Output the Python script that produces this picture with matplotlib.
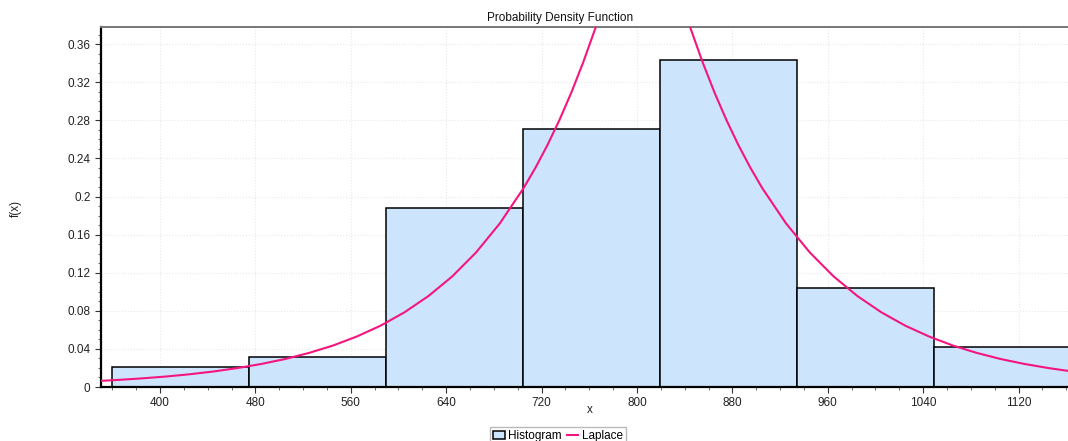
import numpy as np
import matplotlib
matplotlib.use('Agg')
import matplotlib.pyplot as plt
from matplotlib.ticker import MultipleLocator, FuncFormatter

# histogram bins (edges) and relative frequencies
bin_edges = [359.5, 474.5, 589.5, 704.5, 819.5, 934.5, 1049.5, 1164.5]
bin_heights = [0.0213, 0.0315, 0.188, 0.271, 0.343, 0.104, 0.0417]

# Laplace curve, points
curve_x = [350, 365, 385, 405, 425, 445, 465, 485, 505, 525, 545, 565, 585,
           605, 625, 645, 665, 685, 705, 715, 725, 735, 745, 755, 765, 775,
           785, 795, 805, 815, 825, 835, 845, 855, 865, 875, 885, 895, 905,
           925, 945, 965, 985, 1005, 1025, 1045, 1065, 1085, 1105, 1125, 1145, 1165]
curve_y = [0.00643, 0.00745, 0.00907, 0.0110, 0.0134, 0.0163, 0.0199, 0.0242,
           0.0294, 0.0358, 0.0435, 0.0530, 0.0644, 0.0784, 0.0954, 0.1160,
           0.1412, 0.1718, 0.2090, 0.2305, 0.2542, 0.2804, 0.3093, 0.3412,
           0.3763, 0.4151, 0.4578, 0.5050, 0.557, 0.5050, 0.4578, 0.4151,
           0.3763, 0.3412, 0.3093, 0.2804, 0.2542, 0.2305, 0.2090, 0.1718,
           0.1412, 0.1160, 0.0954, 0.0784, 0.0644, 0.0530, 0.0435, 0.0358,
           0.0294, 0.0242, 0.0199, 0.0163]

plt.rcParams['font.family'] = ['Liberation Sans', 'DejaVu Sans']

fig = plt.figure(figsize=(10.68, 4.41), dpi=100)
ax = fig.add_axes([101/1068, 1 - 387/441, 1 - 101/1068, (387 - 27)/441])

widths = np.diff(bin_edges)
bars = ax.bar(bin_edges[:-1], bin_heights, width=widths, align='edge',
              color='#cce5fc', edgecolor='black', linewidth=1.1, label='Histogram', zorder=2)
line, = ax.plot(curve_x, curve_y, color='#f5157f', linewidth=1.5, label='Laplace', zorder=3)

ax.set_xlim(350.5, 1161.5)
ax.set_ylim(0, 0.378)

ax.xaxis.set_major_locator(MultipleLocator(80))
ax.xaxis.set_minor_locator(MultipleLocator(20))
ax.yaxis.set_major_locator(MultipleLocator(0.04))
ax.yaxis.set_minor_locator(MultipleLocator(0.01))
ax.yaxis.set_major_formatter(FuncFormatter(lambda v, p: '%g' % round(v, 4)))

ax.tick_params(which='major', direction='out', length=4, width=0.8, labelsize=8.5,
               colors='#333333', labelcolor='#222222')
ax.tick_params(which='minor', direction='out', length=2, width=0.6, colors='#555555')

ax.grid(True, which='major', color='#e8e8e8', linestyle=':', linewidth=0.8, zorder=0)
ax.set_axisbelow(True)

for s in ['left', 'bottom']:
    ax.spines[s].set_linewidth(1.6)
    ax.spines[s].set_color('black')
ax.spines['top'].set_color('#777777')
ax.spines['top'].set_linewidth(1.4)
ax.spines['right'].set_visible(False)

fig.text(560/1068, 1 - 18/441, 'Probability Density Function', ha='center', va='center',
         fontsize=8.5, color='#111111')
fig.text(590/1068, 1 - 410/441, 'x', ha='center', va='center', fontsize=8.5, color='#222222')
fig.text(16/1068, 1 - 208/441, 'f(x)', ha='center', va='center', rotation=90,
         fontsize=8.5, color='#222222')

leg = fig.legend([bars, line], ['Histogram', 'Laplace'], loc='upper center',
                 bbox_to_anchor=(558/1068, 1 - 427/441), ncol=2,
                 fontsize=8.5, frameon=True, fancybox=False, handlelength=1.0,
                 handletextpad=0.3, columnspacing=0.4, borderpad=0.25,
                 borderaxespad=0)
leg.get_frame().set_edgecolor('#aaaaaa')
leg.get_frame().set_linewidth(1.0)

fig.savefig('out.png', dpi=100)
